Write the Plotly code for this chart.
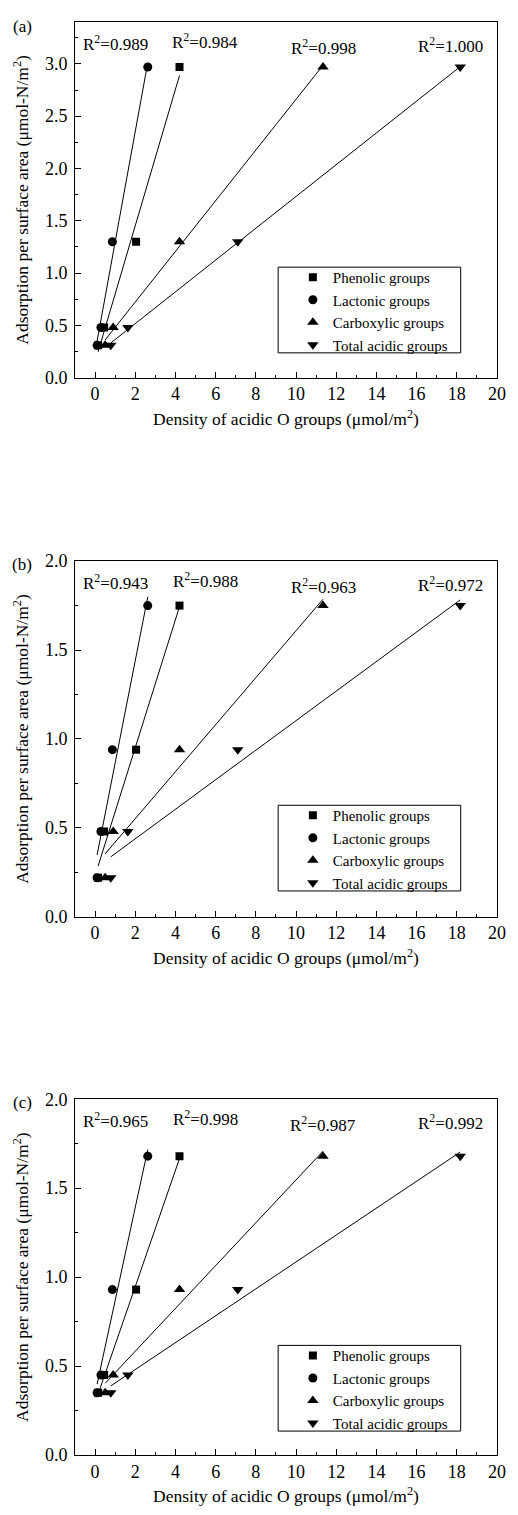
import numpy as np
import plotly.graph_objects as go
from plotly.subplots import make_subplots

# Density of acidic O groups (umol/m2) for the four samples, per group type
phenolic_x = [0.15, 0.45, 2.04, 4.20]
lactonic_x = [0.10, 0.29, 0.86, 2.62]
carboxylic_x = [0.50, 0.90, 4.20, 11.34]
total_x = [0.78, 1.63, 7.10, 18.17]

# Adsorption per surface area (umol-N/m2) for each panel
ads_a = [0.31, 0.48, 1.30, 2.97]
ads_b = [0.22, 0.48, 0.94, 1.75]
ads_c = [0.35, 0.45, 0.93, 1.68]

# Reported R^2 of each linear fit (phenolic, lactonic, carboxylic, total)
r2_a = ["0.984", "0.989", "0.998", "1.000"]
r2_b = ["0.988", "0.943", "0.963", "0.972"]
r2_c = ["0.998", "0.965", "0.987", "0.992"]

panel_labels = ["(a)", "(b)", "(c)"]
y_max = [3.4, 2.0, 2.0]
x_ticks = list(range(0, 21, 2))

series_names = ["Phenolic groups", "Lactonic groups", "Carboxylic groups", "Total acidic groups"]
series_x = [phenolic_x, lactonic_x, carboxylic_x, total_x]
symbols = ["square", "circle", "triangle-up", "triangle-down"]
sym_sizes = [8, 9, 10, 10]

# R^2 label placement: x in data units, offset below the panel top in px
r2_label_x = [5.49, 1.04, 11.36, 17.67]
r2_label_dy = [19, 21, 25, 23]

FONT = "Liberation Serif"
W, H = 518, 1515
ML, MR, MT, MB = 75, 13, 17, 60
PW, PH = W - ML - MR, H - MT - MB


def px_x(px):
    return (px - ML) / PW


def px_y(py):
    return 1 - (py - MT) / PH


panel_px = [(17, 374), (558, 915), (1098, 1455)]
# legend frame per panel (left, top, right, bottom) in px
legend_frames = [(282, 263, 468, 349), (282, 803, 468, 889), (282, 1345, 468, 1431)]

fig = make_subplots(rows=3, cols=1)

for i, (ads, r2) in enumerate(zip([ads_a, ads_b, ads_c], [r2_a, r2_b, r2_c])):
    row = i + 1
    legend_id = "legend" if i == 0 else f"legend{i + 1}"
    for k in range(4):
        xs = np.array(series_x[k])
        ys = np.array(ads)
        fig.add_trace(go.Scatter(
            x=xs, y=ys, mode="markers", name=series_names[k],
            marker=dict(symbol=symbols[k], size=sym_sizes[k], color="black"),
            legend=legend_id, showlegend=True,
        ), row=row, col=1)
        slope, icpt = np.polyfit(xs, ys, 1)
        fx = np.array([xs.min(), xs.max()])
        fig.add_trace(go.Scatter(
            x=fx, y=slope * fx + icpt, mode="lines",
            line=dict(color="black", width=1), showlegend=False, hoverinfo="skip",
        ), row=row, col=1)
        xref = "x" if i == 0 else f"x{i + 1}"
        yref = "y domain" if i == 0 else f"y{i + 1} domain"
        fig.add_annotation(
            x=r2_label_x[k], y=1, xref=xref, yref=yref, yshift=-r2_label_dy[k],
            text=f"R<sup>2</sup>={r2[k]}", showarrow=False,
            xanchor="center", yanchor="middle",
            font=dict(family=FONT, size=17, color="black"),
        )

    top, bot = panel_px[i]
    dom = [px_y(bot), px_y(top)]
    ax_common = dict(
        showline=True, linecolor="black", linewidth=1, mirror=True,
        ticks="inside", ticklen=6, tickwidth=1, tickcolor="black",
        showgrid=False, zeroline=False,
        tickfont=dict(family=FONT, size=18, color="black"),
    )
    fig.update_xaxes(
        range=[-1, 20], tickvals=x_ticks,
        minor=dict(ticks="inside", ticklen=3, tickcolor="black", dtick=1, tick0=0),
        title=dict(text="Density of acidic O groups (μmol/m<sup>2</sup>)",
                   font=dict(family=FONT, size=17.5, color="black"), standoff=9),
        row=row, col=1, **ax_common,
    )
    fig.update_yaxes(
        range=[0, y_max[i]], dtick=0.5, tick0=0, tickformat=".1f",
        minor=dict(ticks="inside", ticklen=3, tickcolor="black", dtick=0.25, tick0=0),
        title=dict(text="Adsorption per surface area (μmol-N/m<sup>2</sup>)",
                   font=dict(family=FONT, size=17.5, color="black"), standoff=11),
        ticklabelstandoff=3, domain=dom,
        row=row, col=1, **ax_common,
    )
    fig.add_annotation(
        x=px_x(21), y=px_y(top + 5 if i == 0 else top + 3), xref="paper", yref="paper",
        text=panel_labels[i], showarrow=False, xanchor="center", yanchor="middle",
        font=dict(family=FONT, size=17, color="black"),
    )
    # legend frame
    l, t, r, b = legend_frames[i]
    fig.add_shape(
        type="rect", xref="paper", yref="paper",
        x0=px_x(l), x1=px_x(r), y0=px_y(b), y1=px_y(t),
        line=dict(color="black", width=1), fillcolor="white", layer="below",
    )

legend_style = dict(
    xanchor="left", yanchor="middle",
    borderwidth=0, bgcolor="rgba(0,0,0,0)",
    font=dict(family=FONT, size=15, color="black"),
    itemwidth=30, tracegroupgap=0,
)
legend_layout = {}
for i, name in enumerate(["legend", "legend2", "legend3"]):
    l, t, r, b = legend_frames[i]
    legend_layout[name] = dict(x=px_x(297), y=px_y((t + b) / 2 + 1), **legend_style)

fig.update_layout(
    width=W, height=H,
    margin=dict(l=ML, r=MR, t=MT, b=MB),
    paper_bgcolor="white", plot_bgcolor="white",
    font=dict(family=FONT, color="black"),
    **legend_layout,
)

fig.write_html("out.html")
